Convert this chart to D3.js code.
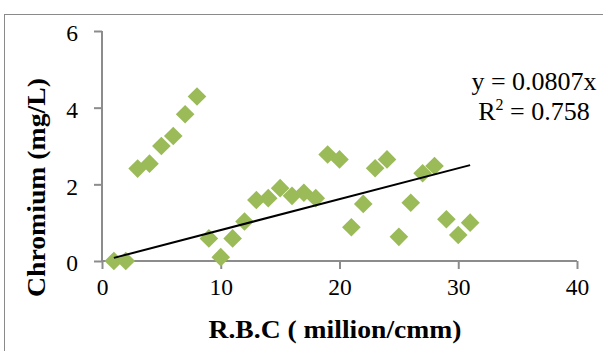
<!DOCTYPE html>
<html>
<head>
<meta charset="utf-8">
<script src="https://cdn.jsdelivr.net/npm/d3@7"></script>
<style>
  html, body { margin: 0; padding: 0; background: #fff; }
  svg { display: block; }
  text { font-family: "Liberation Serif", "Times New Roman", serif; fill: #000; }
</style>
</head>
<body>
<svg id="chart" width="603" height="351"></svg>
<script>
// RBC count vs. chromium concentration
const rbc = [1, 2, 3, 4, 5, 6, 7, 8, 9, 10, 11, 12, 13, 14, 15, 16,
             17, 18, 19, 20, 21, 22, 23, 24, 25, 26, 27, 28, 29, 30, 31];
const chromium = [0.0, 0.0, 2.41, 2.54, 3.0, 3.26, 3.83, 4.29, 0.59, 0.1, 0.59, 1.03,
                  1.59, 1.64, 1.9, 1.7, 1.78, 1.64, 2.78, 2.65, 0.88, 1.49,
                  2.42, 2.65, 0.63, 1.52, 2.29, 2.48, 1.09, 0.68, 1.0];
const xTicks = [0, 10, 20, 30, 40];
const yTicks = [0, 2, 4, 6];
const slope = 0.0807;
const rSquared = "0.758";
const trendRange = [1, 31];

const svg = d3.select("#chart");

// chart frame
svg.append("rect")
  .attr("x", 4.5).attr("y", 14.5)
  .attr("width", 700).attr("height", 400)
  .attr("fill", "#fff")
  .attr("stroke", "#8a8a8a").attr("stroke-width", 1);

const x = d3.scaleLinear().domain([0, 40]).range([102, 577]);
const y = d3.scaleLinear().domain([0, 6]).range([261, 31]);

const axisColor = "#8c8c8c";

// x axis
const gx = svg.append("g").attr("transform", `translate(0,${y(0)})`)
  .call(d3.axisBottom(x).tickValues(xTicks).tickFormat(d3.format("d"))
    .tickSize(8).tickSizeOuter(8).tickPadding(10));
// y axis
const gy = svg.append("g").attr("transform", `translate(${x(0)},0)`)
  .call(d3.axisLeft(y).tickValues(yTicks).tickFormat(d3.format("d"))
    .tickSize(8).tickSizeOuter(8).tickPadding(16));

[gx, gy].forEach(g => {
  g.selectAll("path.domain").remove();
  g.selectAll(".tick line").attr("stroke", axisColor).attr("stroke-width", 2);
  g.selectAll(".tick text")
    .attr("font-family", "Liberation Serif")
    .attr("font-size", 23.5)
    .attr("fill", "#000");
});
gx.append("line").attr("x1", x(0)).attr("x2", x(40))
  .attr("stroke", axisColor).attr("stroke-width", 2);
gx.selectAll(".tick text").attr("dy", "0.66em");
gy.append("line").attr("y1", y(0)).attr("y2", y(6))
  .attr("stroke", axisColor).attr("stroke-width", 2);
gy.selectAll(".tick text").attr("dy", "0.42em");

// data markers (diamonds)
const r = 9.3;
const diamond = `M0,${-r}L${r},0L0,${r}L${-r},0Z`;
svg.append("g").selectAll("path")
  .data(rbc.map((v, i) => [v, chromium[i]]))
  .join("path")
  .attr("d", diamond)
  .attr("transform", d => `translate(${x(d[0])},${y(d[1])})`)
  .attr("fill", "#9bbb59");

// linear trendline through the origin
svg.append("line")
  .attr("x1", x(trendRange[0])).attr("y1", y(slope * trendRange[0]))
  .attr("x2", x(trendRange[1])).attr("y2", y(slope * trendRange[1]))
  .attr("stroke", "#000").attr("stroke-width", 2);

// trendline equation
const eq = svg.append("text")
  .attr("text-anchor", "middle")
  .attr("font-size", 26);
eq.append("tspan").attr("x", 534).attr("y", 90).text(`y = ${slope}x`);
eq.append("tspan").attr("x", 534).attr("y", 120).text("R")
  .append("tspan").attr("font-size", 16).attr("dy", -10).text("2")
  .select(function() { return this.parentNode; })
  .append("tspan").attr("dy", 10).text(` = ${rSquared}`);

// axis titles
svg.append("text")
  .attr("x", 335).attr("y", 338)
  .attr("text-anchor", "middle")
  .attr("font-weight", "bold")
  .attr("font-size", 25.5)
  .attr("textLength", 253)
  .attr("lengthAdjust", "spacingAndGlyphs")
  .text("R.B.C ( million/cmm)");

svg.append("text")
  .attr("transform", "translate(45,187.5) rotate(-90)")
  .attr("text-anchor", "middle")
  .attr("font-weight", "bold")
  .attr("font-size", 25.5)
  .attr("textLength", 219)
  .attr("lengthAdjust", "spacingAndGlyphs")
  .text("Chromium (mg/L)");
</script>
</body>
</html>
